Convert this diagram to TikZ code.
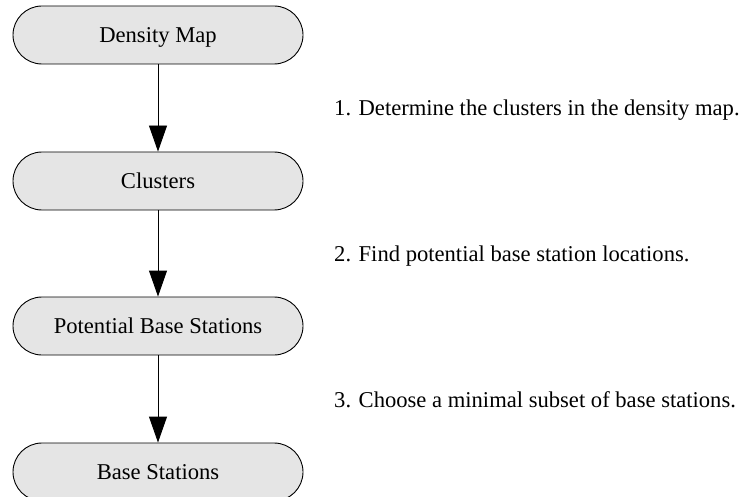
\documentclass[tikz,border=0pt]{standalone}
\usepackage{fontspec}
\setmainfont{Liberation Serif}
\usetikzlibrary{arrows.meta}
\definecolor{boxfill}{HTML}{E5E5E5}
\begin{document}
\begin{tikzpicture}[x=1pt,y=-1pt,
  font=\fontsize{22.6}{27}\selectfont,
  stage/.style={draw=black, line width=0.9pt, fill=boxfill,
    rounded corners=29pt, minimum width=290pt, minimum height=58pt,
    inner sep=0pt, text height=15pt, text depth=0pt},
  flow/.style={draw=black, line width=0.9pt,
    -{Triangle[length=26pt,width=18pt]}},
  note/.style={anchor=base west, inner sep=0pt}]
  \useasboundingbox (0,0) rectangle (741,497);

  % pipeline stages
  \node[stage] (density)   at (158,35)  {Density Map};
  \node[stage] (clusters)  at (158,181) {Clusters};
  \node[stage] (potential) at (158,326) {Potential Base Stations};
  \node[stage] (stations)  at (158,472) {Base Stations};

  % transitions between stages
  \draw[flow] (density) -- (clusters);
  \draw[flow] (clusters) -- (potential);
  \draw[flow] (potential) -- (stations);

  % step descriptions
  \node[note] (s1) at (334,116)   {1. Determine the clusters in the density map.};
  \node[note] (s2) at (334,261.5) {2. Find potential base station locations.};
  \node[note] (s3) at (334,407.5) {3. Choose a minimal subset of base stations.};
\end{tikzpicture}
\end{document}
